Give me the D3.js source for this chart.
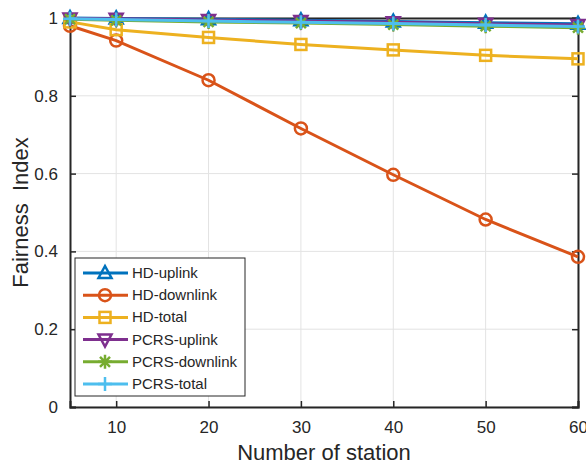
<!DOCTYPE html>
<html>
<head>
<meta charset="utf-8">
<script src="https://cdn.jsdelivr.net/npm/d3@7"></script>
<style>
body { margin: 0; background: #fff; }
text { font-family: "Liberation Sans", Arial, sans-serif; fill: #262626; }
</style>
</head>
<body>
<script>
// datos del grafico
var stations = [5, 10, 20, 30, 40, 50, 60]
var hdUplink = [1.0, 0.999, 0.997, 0.994, 0.991, 0.988, 0.985]
var hdDownlink = [0.98, 0.942, 0.84, 0.716, 0.597, 0.482, 0.386]
var hdTotal = [0.99, 0.97, 0.95, 0.932, 0.918, 0.904, 0.895]
var pcrsUplink = [0.999, 0.998, 0.995, 0.992, 0.989, 0.985, 0.982]
var pcrsDownlink = [0.997, 0.994, 0.99, 0.987, 0.983, 0.979, 0.975]
var pcrsTotal = [0.998, 0.996, 0.992, 0.989, 0.986, 0.982, 0.978]
var seriesNames = ["HD-uplink", "HD-downlink", "HD-total", "PCRS-uplink", "PCRS-downlink", "PCRS-total"]
var xTicks = [10, 20, 30, 40, 50, 60]
var yTicks = [0, 0.2, 0.4, 0.6, 0.8, 1]

var series = [
	{ name: seriesNames[0], values: hdUplink, color: "#0072BD", marker: "triUp" },
	{ name: seriesNames[1], values: hdDownlink, color: "#D95319", marker: "circle" },
	{ name: seriesNames[2], values: hdTotal, color: "#EDB120", marker: "square" },
	{ name: seriesNames[3], values: pcrsUplink, color: "#7E2F8E", marker: "triDown" },
	{ name: seriesNames[4], values: pcrsDownlink, color: "#77AC30", marker: "star" },
	{ name: seriesNames[5], values: pcrsTotal, color: "#4DBEEE", marker: "plus" }
]

var W = 586, H = 466
var m = { left: 70, right: 8, top: 18, bottom: 59 }

var svg = d3.select("body").append("svg").attr("width", W).attr("height", H)

var x = d3.scaleLinear().domain([5, 60]).range([m.left, W - m.right])
var y = d3.scaleLinear().domain([0, 1]).range([H - m.bottom, m.top])

// grid
var g = svg.append("g")
g.selectAll(".gx").data(xTicks).enter().append("line")
	.attr("x1", function(d) { return x(d) }).attr("x2", function(d) { return x(d) })
	.attr("y1", y(0)).attr("y2", y(1))
	.attr("stroke", "#e3e3e3").attr("stroke-width", 1)
g.selectAll(".gy").data(yTicks).enter().append("line")
	.attr("y1", function(d) { return y(d) }).attr("y2", function(d) { return y(d) })
	.attr("x1", x(5)).attr("x2", x(60))
	.attr("stroke", "#e3e3e3").attr("stroke-width", 1)

// ejes (ticks hacia adentro)
var xAxis = svg.append("g").attr("transform", "translate(0," + y(0) + ")")
	.call(d3.axisBottom(x).tickValues(xTicks).tickSize(-6).tickPadding(14).tickFormat(d3.format("d")))
var yAxis = svg.append("g").attr("transform", "translate(" + x(5) + ",0)")
	.call(d3.axisLeft(y).tickValues(yTicks).tickSize(-6).tickPadding(12).tickFormat(function(d) { return d === 0 || d === 1 ? d : d3.format(".1f")(d) }))
svg.append("g").attr("transform", "translate(0," + y(1) + ")")
	.call(d3.axisTop(x).tickValues(xTicks).tickSize(-6).tickFormat(""))
svg.append("g").attr("transform", "translate(" + x(60) + ",0)")
	.call(d3.axisRight(y).tickValues(yTicks).tickSize(-6).tickFormat(""))

svg.selectAll(".domain").attr("stroke", "#262626").attr("stroke-width", 2)
svg.selectAll(".tick line").attr("stroke", "#262626").attr("stroke-width", 1.5)
svg.selectAll(".tick text").attr("font-size", 17).attr("fill", "#262626")
	.style("font-family", "'Liberation Sans', Arial, sans-serif")

// titulos de ejes
svg.append("text").attr("x", (x(5) + x(60)) / 2).attr("y", 460)
	.attr("text-anchor", "middle").attr("font-size", 22).text("Number of station")
svg.append("text").attr("transform", "translate(28," + (y(0.5)) + ") rotate(-90)")
	.attr("text-anchor", "middle").attr("font-size", 22).style("white-space", "pre").text("Fairness  Index")

// marcadores
function drawMarker(sel, type, color, cx, cy) {
	var mk = sel.append("g").attr("transform", "translate(" + cx + "," + cy + ")")
		.attr("fill", "none").attr("stroke", color).attr("stroke-width", 2.5)
	if (type === "circle") mk.append("circle").attr("r", 6)
	else if (type === "square") mk.append("rect").attr("x", -5.5).attr("y", -5.5).attr("width", 11).attr("height", 11)
	else if (type === "triUp") mk.append("path").attr("d", "M0,-7L6.5,5L-6.5,5Z")
	else if (type === "triDown") mk.append("path").attr("d", "M0,7L6.5,-5L-6.5,-5Z")
	else if (type === "plus") mk.append("path").attr("d", "M-7,0H7M0,-7V7")
	else if (type === "star") mk.append("path").attr("d", "M-7,0H7M0,-7V7M-5,-5L5,5M-5,5L5,-5")
}

var line = d3.line()
	.x(function(d, i) { return x(stations[i]) })
	.y(function(d) { return y(d) })

series.forEach(function(s) {
	svg.append("path").datum(s.values).attr("d", line)
		.attr("fill", "none").attr("stroke", s.color).attr("stroke-width", 3)
	s.values.forEach(function(v, i) {
		drawMarker(svg, s.marker, s.color, x(stations[i]), y(v))
	})
})

// leyenda
var lg = svg.append("g").attr("transform", "translate(75,258)")
lg.append("rect").attr("width", 170).attr("height", 138)
	.attr("fill", "#fff").attr("stroke", "#262626").attr("stroke-width", 1)
series.forEach(function(s, i) {
	var yy = 15 + i * 22.2
	lg.append("line").attr("x1", 8).attr("x2", 53).attr("y1", yy).attr("y2", yy)
		.attr("stroke", s.color).attr("stroke-width", 3)
	drawMarker(lg, s.marker, s.color, 30, yy)
	lg.append("text").attr("x", 57).attr("y", yy + 5).attr("font-size", 15).text(s.name)
})
</script>
</body>
</html>
